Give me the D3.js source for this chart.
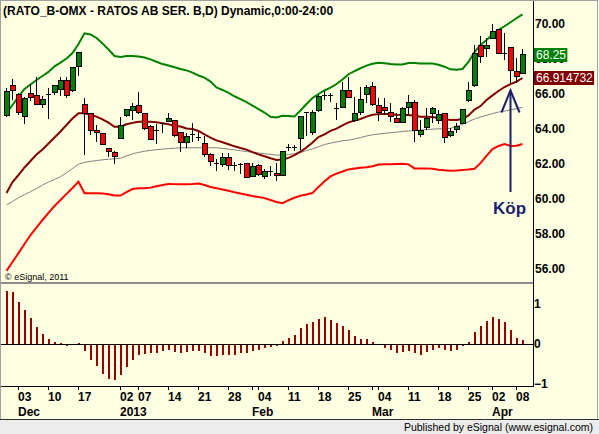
<!DOCTYPE html>
<html>
<head>
<meta charset="utf-8">
<script src="https://d3js.org/d3.v7.min.js"></script>
<style>
  html, body { margin: 0; padding: 0; background: #fff; }
  svg { display: block; }
</style>
</head>
<body>
<div id="chartContainer"></div>
<script>
// Trading days shown on the chart
const dates = [
  "2012-11-28","2012-11-29","2012-11-30",
  "2012-12-03","2012-12-04","2012-12-05","2012-12-06","2012-12-07",
  "2012-12-10","2012-12-11","2012-12-12","2012-12-13","2012-12-14",
  "2012-12-17","2012-12-18","2012-12-19","2012-12-20","2012-12-21",
  "2012-12-27","2012-12-28",
  "2013-01-02","2013-01-03","2013-01-04",
  "2013-01-07","2013-01-08","2013-01-09","2013-01-10","2013-01-11",
  "2013-01-14","2013-01-15","2013-01-16","2013-01-17","2013-01-18",
  "2013-01-21","2013-01-22","2013-01-23","2013-01-24","2013-01-25",
  "2013-01-28","2013-01-29","2013-01-30","2013-01-31","2013-02-01",
  "2013-02-04","2013-02-05","2013-02-06","2013-02-07","2013-02-08",
  "2013-02-11","2013-02-12","2013-02-13","2013-02-14","2013-02-15",
  "2013-02-18","2013-02-19","2013-02-20","2013-02-21","2013-02-22",
  "2013-02-25","2013-02-26","2013-02-27","2013-02-28","2013-03-01",
  "2013-03-04","2013-03-05","2013-03-06","2013-03-07","2013-03-08",
  "2013-03-11","2013-03-12","2013-03-13","2013-03-14","2013-03-15",
  "2013-03-18","2013-03-19","2013-03-20","2013-03-21","2013-03-22",
  "2013-03-25","2013-03-26","2013-03-27","2013-03-28",
  "2013-04-02","2013-04-03","2013-04-04","2013-04-05",
  "2013-04-08"
];

const open = [
  64.76,66.46,66.00,64.71,66.04,65.92,65.41,65.96,66.11,66.27,66.80,66.19,67.60,
  65.41,64.90,63.94,63.75,62.90,62.65,63.47,64.76,65.05,65.37,64.90,64.17,63.94,
  64.29,64.42,64.46,63.79,63.24,63.70,63.52,63.18,62.52,62.04,61.98,62.38,61.91,
  61.98,62.04,61.28,61.89,61.28,61.56,61.47,61.33,62.93,62.93,63.47,64.93,63.81,
  65.03,65.89,65.89,65.18,65.24,66.19,64.47,64.95,66.00,66.42,65.33,65.24,64.93,
  64.61,64.36,65.22,65.52,63.66,64.09,64.89,64.51,64.89,63.62,63.98,64.32,65.62,
  66.48,68.80,68.59,69.18,69.66,68.32,68.67,67.31,67.18
];
const high = [
  66.36,66.84,66.04,65.85,66.60,66.95,65.89,66.32,66.50,66.95,66.95,67.56,68.42,
  65.75,64.93,64.23,63.79,62.93,62.74,64.67,65.12,65.47,66.13,64.93,64.23,64.29,
  64.32,64.90,64.51,63.85,63.79,64.32,63.85,63.60,62.61,62.27,62.65,62.65,62.13,
  62.04,62.08,62.08,62.00,61.70,61.91,62.08,62.76,63.14,63.08,64.76,64.97,65.09,
  65.94,66.17,66.04,65.47,66.70,66.99,65.85,66.38,66.51,66.70,65.75,65.75,65.47,
  64.89,65.28,65.94,65.66,64.51,65.18,65.28,65.09,64.93,64.04,64.32,65.12,66.70,
  68.80,69.31,69.18,70.00,69.70,69.47,68.70,68.04,68.55
];
const low = [
  64.71,65.66,64.80,64.27,65.60,65.37,65.18,64.55,65.94,65.90,65.75,66.13,67.03,
  62.52,63.66,63.28,63.09,62.42,62.00,63.43,64.71,64.52,64.86,63.94,63.37,63.14,
  63.75,64.38,63.56,62.70,62.90,63.28,63.33,62.38,61.91,61.62,61.85,61.66,61.62,
  61.43,61.22,61.24,61.31,61.12,61.33,61.05,61.31,62.74,62.74,62.80,63.60,63.66,
  64.99,65.66,65.56,64.52,65.18,65.75,64.40,64.80,65.47,65.31,64.47,64.80,64.42,
  64.32,64.32,64.80,63.27,63.56,63.94,64.32,64.29,63.18,63.56,63.75,64.29,65.56,
  66.42,67.75,68.13,69.12,68.27,67.94,66.61,66.65,67.14
];
const close = [
  66.17,66.19,64.93,65.75,65.79,65.41,65.66,65.96,66.46,66.80,65.92,67.52,68.40,
  64.90,63.90,63.81,63.14,62.71,62.42,64.19,65.09,65.31,64.93,64.04,63.41,63.94,
  64.29,64.60,63.64,63.22,63.56,63.70,63.52,62.57,62.17,62.04,62.38,61.91,61.91,
  61.98,61.24,61.85,61.41,61.60,61.56,61.33,62.74,62.93,62.93,64.71,64.93,64.95,
  65.87,65.89,65.89,65.18,66.19,65.81,64.89,65.71,66.38,65.41,64.93,65.05,64.74,
  64.38,65.18,65.52,63.90,63.90,64.61,65.18,64.84,63.52,63.88,64.17,65.09,66.19,
  68.32,68.13,68.80,69.60,68.32,68.32,67.33,66.99,68.25
];

// Envelope lines
const upperBand = [
  64.91,65.37,65.85,66.29,66.54,66.80,67.03,67.26,67.58,67.79,68.03,68.34,68.86,
  69.47,69.40,69.20,68.89,68.54,68.17,68.11,68.17,68.17,68.14,68.09,67.98,67.84,
  67.71,67.63,67.53,67.43,67.35,67.22,67.06,66.94,66.71,66.38,66.23,66.06,65.87,
  65.71,65.53,65.34,65.14,64.94,64.70,64.66,64.76,64.74,64.71,65.06,65.43,65.77,
  66.00,66.20,66.37,66.57,66.83,67.13,67.31,67.47,67.62,67.73,67.78,67.76,67.71,
  67.68,67.69,67.77,67.77,67.75,67.75,67.74,67.67,67.56,67.41,67.39,67.43,67.83,
  68.40,68.80,69.09,69.40,69.66,69.87,70.10,70.33,70.55
];
const midLine = [
  60.34,60.97,61.37,61.80,62.17,62.54,62.83,63.17,63.51,63.86,64.23,64.60,64.90,
  64.90,64.81,64.71,64.55,64.36,64.13,64.13,64.27,64.35,64.42,64.42,64.41,64.38,
  64.33,64.27,64.18,64.14,64.03,64.00,63.89,63.69,63.51,63.35,63.24,63.13,63.01,
  62.91,62.82,62.68,62.55,62.44,62.33,62.23,62.26,62.35,62.51,62.71,62.94,63.23,
  63.54,63.69,63.89,64.02,64.21,64.38,64.48,64.57,64.71,64.81,64.85,64.86,64.86,
  64.82,64.80,64.80,64.76,64.70,64.70,64.69,64.63,64.57,64.51,64.51,64.57,64.78,
  65.11,65.31,65.66,65.92,66.17,66.40,66.56,66.71,66.914732
];
const lowerBand = [
  55.89,56.40,56.91,57.43,57.94,58.36,58.80,59.21,59.60,59.94,60.29,60.63,60.99,
  60.33,60.33,60.33,60.31,60.27,60.20,60.20,60.39,60.57,60.61,60.61,60.65,60.73,
  60.80,60.86,60.85,60.84,60.84,60.86,60.89,60.80,60.69,60.62,60.54,60.47,60.38,
  60.31,60.24,60.17,60.11,60.05,59.94,59.83,59.76,59.93,60.07,60.19,60.26,60.34,
  60.69,61.01,61.29,61.45,61.57,61.69,61.74,61.78,61.82,61.87,61.97,61.99,61.98,
  62.00,62.02,61.98,61.75,61.75,61.75,61.73,61.67,61.64,61.62,61.63,61.66,61.68,
  61.73,62.05,62.46,62.85,63.03,63.14,63.03,63.04,63.14
];
const slowLine = [
  59.66,59.86,60.07,60.25,60.42,60.60,60.79,60.97,61.12,61.27,61.50,61.74,61.99,
  62.09,62.15,62.20,62.24,62.27,62.30,62.33,62.46,62.58,62.66,62.73,62.78,62.82,
  62.85,62.88,62.90,62.93,62.92,62.93,62.93,62.93,62.93,62.93,62.89,62.85,62.81,
  62.76,62.71,62.67,62.63,62.59,62.55,62.51,62.51,62.54,62.59,62.66,62.77,62.86,
  62.99,63.11,63.19,63.26,63.33,63.36,63.43,63.51,63.60,63.67,63.71,63.75,63.79,
  63.82,63.86,63.89,63.91,63.94,63.97,63.99,64.01,64.02,64.04,64.15,64.27,64.42,
  64.57,64.69,64.78,64.88,64.97,65.02,65.09,65.16,65.24
];

// Lower panel oscillator
const oscillator = [
  1.33,1.29,1.06,0.86,0.65,0.42,0.26,0.13,0.06,0.03,-0.06,-0.03,0.03,
  -0.18,-0.41,-0.56,-0.74,-0.87,-0.91,-0.78,-0.58,-0.39,-0.27,-0.24,-0.23,-0.23,
  -0.18,-0.14,-0.20,-0.23,-0.20,-0.18,-0.17,-0.23,-0.29,-0.31,-0.28,-0.27,-0.27,
  -0.23,-0.23,-0.17,-0.14,-0.10,-0.08,-0.06,0.08,0.16,0.23,0.40,0.51,0.55,
  0.63,0.67,0.61,0.52,0.46,0.36,0.21,0.13,0.13,0.06,-0.03,-0.11,-0.16,
  -0.23,-0.21,-0.18,-0.23,-0.27,-0.21,-0.14,-0.11,-0.16,-0.18,-0.16,-0.06,0.06,
  0.30,0.46,0.58,0.67,0.63,0.54,0.34,0.16,0.09
];

// Axis ticks and labels
const priceTicks = [56, 58, 60, 62, 64, 66, 68, 70];
const oscTicks = [-1, 0, 1];
const dayTicks = [
  "2012-12-03","2012-12-10","2012-12-17","2013-01-02","2013-01-07","2013-01-14",
  "2013-01-21","2013-01-28","2013-02-04","2013-02-11","2013-02-18","2013-02-25",
  "2013-03-04","2013-03-11","2013-03-18","2013-03-25","2013-04-02","2013-04-08"
];
const monthTicks = ["2012-12-03","2013-01-02","2013-02-01","2013-03-01","2013-04-02"];
const monthNames = ["Dec","2013","Feb","Mar","Apr"];

const titleText = "(RATO_B-OMX - RATOS AB SER. B,D) Dynamic,0:00-24:00";
const buySignal = { date: "2013-04-04", tip: 66.2, tail: 60.4, label: "Köp" };

// Sizes
const width = 599;
const height = 434;
const axisX = 533;
const font = "'Liberation Sans', Arial, sans-serif";

const svg = d3.select("#chartContainer")
  .append("svg")
  .attr("width", width)
  .attr("height", height);

// Background and frame
svg.append("rect").attr("x", 0).attr("y", 0).attr("width", width).attr("height", height).attr("fill", "#ffffff");
svg.append("rect").attr("x", 0.5).attr("y", 0.5).attr("width", 597).attr("height", 419)
  .attr("fill", "#ffffe1").attr("stroke", "#a0a0a0");
svg.append("rect").attr("x", 0).attr("y", 420).attr("width", width).attr("height", 14).attr("fill", "#ececec");
svg.append("line").attr("x1", 0).attr("x2", width).attr("y1", 419.5).attr("y2", 419.5).attr("stroke", "#303030");

// Scales
const x = d3.scalePoint().domain(dates).range([6, 522]);
const y = d3.scaleLinear().domain([56, 70]).range([269, 24]);
const yOsc = d3.scaleLinear().domain([-1, 1]).range([384, 304]);

const bars = dates.map((d, i) => ({
  date: d, open: open[i], high: high[i], low: low[i], close: close[i],
  upper: upperBand[i], mid: midLine[i], lower: lowerBand[i], slow: slowLine[i], osc: oscillator[i]
}));

// Panel separator and axis lines
svg.append("line").attr("x1", 1).attr("x2", axisX).attr("y1", 283).attr("y2", 283)
  .attr("stroke", "#8c8c8c").attr("stroke-width", 2);
svg.append("line").attr("x1", axisX + 0.5).attr("x2", axisX + 0.5).attr("y1", 1).attr("y2", 387)
  .attr("stroke", "#000");
svg.append("line").attr("x1", 1).attr("x2", axisX).attr("y1", 386.5).attr("y2", 386.5)
  .attr("stroke", "#000");

// Title
svg.append("text")
  .attr("x", 3).attr("y", 15)
  .style("font-family", font).style("font-size", "12px").style("font-weight", "700")
  .text(titleText);

svg.append("text")
  .attr("x", 5).attr("y", 280)
  .style("font-family", font).style("font-size", "9px")
  .text("© eSignal, 2011");

// Envelope lines
const lineFor = key => d3.line().x(d => x(d.date) + 0.5).y(d => y(d[key]));
const lineStyles = [
  { key: "slow", color: "#808080", w: 1 },
  { key: "lower", color: "#ff0000", w: 2 },
  { key: "upper", color: "#008000", w: 2 },
  { key: "mid", color: "#800000", w: 2 }
];
lineStyles.forEach(s => {
  svg.append("path")
    .datum(bars)
    .attr("fill", "none")
    .attr("stroke", s.color)
    .attr("stroke-width", s.w)
    .attr("d", lineFor(s.key));
});

// Candles
const candles = svg.append("g").attr("shape-rendering", "crispEdges");
candles.selectAll(".wick")
  .data(bars)
  .enter().append("line")
  .attr("x1", d => x(d.date) + 0.5).attr("x2", d => x(d.date) + 0.5)
  .attr("y1", d => y(d.high)).attr("y2", d => y(d.low))
  .attr("stroke", "#000");

candles.selectAll(".body")
  .data(bars.filter(d => d.open !== d.close))
  .enter().append("rect")
  .attr("x", d => x(d.date) - 2)
  .attr("y", d => y(Math.max(d.open, d.close)))
  .attr("width", 5)
  .attr("height", d => Math.max(1, y(Math.min(d.open, d.close)) - y(Math.max(d.open, d.close))))
  .attr("fill", d => d.close > d.open ? "#008000" : "#ff0000")
  .attr("stroke", "#000");

candles.selectAll(".doji")
  .data(bars.filter(d => d.open === d.close))
  .enter().append("line")
  .attr("x1", d => x(d.date) - 2).attr("x2", d => x(d.date) + 3)
  .attr("y1", d => y(d.close)).attr("y2", d => y(d.close))
  .attr("stroke", "#000");

// Oscillator panel
svg.append("g").attr("shape-rendering", "crispEdges")
  .selectAll("rect")
  .data(bars)
  .enter().append("rect")
  .attr("x", d => x(d.date) - 0.5)
  .attr("width", 2)
  .attr("y", d => yOsc(Math.max(0, d.osc)))
  .attr("height", d => Math.abs(yOsc(d.osc) - yOsc(0)))
  .attr("fill", "#990000");

svg.append("line")
  .attr("x1", 1).attr("x2", axisX)
  .attr("y1", Math.round(yOsc(0)) + 0.5).attr("y2", Math.round(yOsc(0)) + 0.5)
  .attr("stroke", "#000");

// Right axes
const priceAxis = svg.append("g")
  .attr("transform", `translate(${axisX},0)`)
  .call(d3.axisRight(y).tickValues(priceTicks).tickSize(0).tickPadding(2).tickFormat(d3.format(".2f")));
priceAxis.select(".domain").remove();
priceAxis.selectAll("text")
  .style("font-family", font).style("font-size", "12px").style("font-weight", "700").style("fill", "#000");

const oscAxis = svg.append("g")
  .attr("transform", `translate(${axisX},0)`)
  .call(d3.axisRight(yOsc).tickValues(oscTicks).tickSize(0).tickPadding(1).tickFormat(d3.format("d")));
oscAxis.select(".domain").remove();
oscAxis.selectAll("text")
  .style("font-family", font).style("font-size", "12px").style("font-weight", "700").style("fill", "#000");

// Last value tags
const tags = [
  { value: close[close.length - 1], text: "68.25", color: "#008000" },
  { value: midLine[midLine.length - 1], text: "66.914732", color: "#800000" }
];
tags.forEach(t => {
  const g = svg.append("g").attr("transform", `translate(${axisX + 1},${Math.round(y(t.value))})`);
  const r = g.append("rect").attr("fill", t.color);
  const label = g.append("text")
    .attr("x", 2).attr("y", 0).attr("dy", "0.35em")
    .style("font-family", font).style("font-size", "12px").style("fill", "#fff")
    .text(t.text);
  const b = label.node().getBBox();
  r.attr("x", 0).attr("y", -7).attr("width", b.width + 3).attr("height", 14);
});

// Bottom time axis
const prevDate = d => dates[dates.indexOf(d) - 1];
const timeAxis = svg.append("g").attr("shape-rendering", "crispEdges");
timeAxis.selectAll(".tick")
  .data(dayTicks.concat(monthTicks))
  .enter().append("line")
  .attr("x1", d => x(prevDate(d)) + 0.5).attr("x2", d => x(prevDate(d)) + 0.5)
  .attr("y1", 387).attr("y2", 390)
  .attr("stroke", "#000");

svg.selectAll(".dayLabel")
  .data(dayTicks)
  .enter().append("text")
  .attr("x", d => x(prevDate(d)))
  .attr("y", 401)
  .style("font-family", font).style("font-size", "12px").style("font-weight", "700")
  .text(d => d.slice(8));

svg.selectAll(".monthLabel")
  .data(monthTicks)
  .enter().append("text")
  .attr("x", d => x(prevDate(d)))
  .attr("y", 416)
  .style("font-family", font).style("font-size", "12px").style("font-weight", "700")
  .text((d, i) => monthNames[i]);

// Buy signal arrow
const ax = x(buySignal.date) + 0.5;
const arrow = svg.append("g").attr("stroke", "#1b1f6e").attr("stroke-width", 2).attr("fill", "none");
arrow.append("line").attr("x1", ax).attr("x2", ax).attr("y1", y(buySignal.tail)).attr("y2", y(buySignal.tip));
arrow.append("polyline")
  .attr("points", `${ax - 9},${y(buySignal.tip) + 22} ${ax},${y(buySignal.tip)} ${ax + 9},${y(buySignal.tip) + 22}`);
svg.append("text")
  .attr("x", ax - 1).attr("y", y(buySignal.tail) + 22)
  .attr("text-anchor", "middle")
  .style("font-family", font).style("font-size", "17px").style("font-weight", "700")
  .style("fill", "#1b1f6e")
  .text(buySignal.label);

// Footer
svg.append("text")
  .attr("x", 593).attr("y", 431)
  .attr("text-anchor", "end")
  .style("font-family", font).style("font-size", "10.5px").style("fill", "#000")
  .text("Published by eSignal (www.esignal.com)");
</script>
</body>
</html>
